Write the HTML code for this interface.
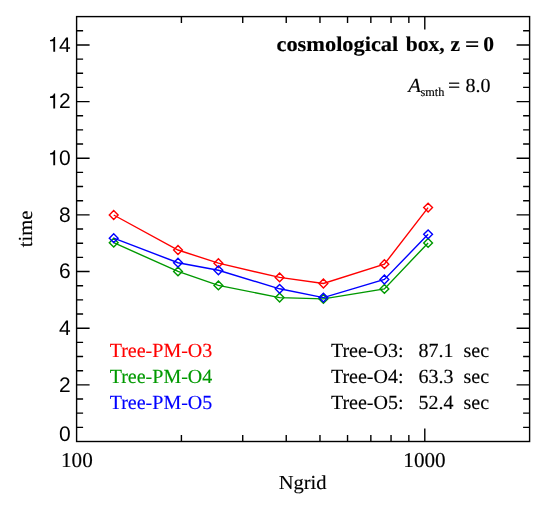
<!DOCTYPE html>
<html><head><meta charset="utf-8"><style>
html,body{margin:0;padding:0;background:#fff;}
body{width:550px;height:511px;overflow:hidden;font-family:"Liberation Serif",serif;}
svg{display:block;will-change:transform;}
text{white-space:pre;}
</style></head><body>
<svg width="550" height="511" viewBox="0 0 550 511" text-rendering="geometricPrecision">
<rect x="76.6" y="16.6" width="453.00" height="424.90" fill="none" stroke="#000" stroke-width="1.4"/>
<path d="M181.41 441.5v-6.5M181.41 16.6v6.5M242.73 441.5v-6.5M242.73 16.6v6.5M286.23 441.5v-6.5M286.23 16.6v6.5M319.97 441.5v-6.5M319.97 16.6v6.5M347.54 441.5v-6.5M347.54 16.6v6.5M370.85 441.5v-6.5M370.85 16.6v6.5M391.04 441.5v-6.5M391.04 16.6v6.5M408.85 441.5v-6.5M408.85 16.6v6.5M424.79 441.5v-13M424.79 16.6v13M76.6 427.34h6.5M529.6 427.34h-6.5M76.6 413.17h6.5M529.6 413.17h-6.5M76.6 399.01h6.5M529.6 399.01h-6.5M76.6 384.85h13M529.6 384.85h-13M76.6 370.68h6.5M529.6 370.68h-6.5M76.6 356.52h6.5M529.6 356.52h-6.5M76.6 342.36h6.5M529.6 342.36h-6.5M76.6 328.19h13M529.6 328.19h-13M76.6 314.03h6.5M529.6 314.03h-6.5M76.6 299.87h6.5M529.6 299.87h-6.5M76.6 285.70h6.5M529.6 285.70h-6.5M76.6 271.54h13M529.6 271.54h-13M76.6 257.38h6.5M529.6 257.38h-6.5M76.6 243.21h6.5M529.6 243.21h-6.5M76.6 229.05h6.5M529.6 229.05h-6.5M76.6 214.89h13M529.6 214.89h-13M76.6 200.72h6.5M529.6 200.72h-6.5M76.6 186.56h6.5M529.6 186.56h-6.5M76.6 172.40h6.5M529.6 172.40h-6.5M76.6 158.23h13M529.6 158.23h-13M76.6 144.07h6.5M529.6 144.07h-6.5M76.6 129.91h6.5M529.6 129.91h-6.5M76.6 115.74h6.5M529.6 115.74h-6.5M76.6 101.58h13M529.6 101.58h-13M76.6 87.42h6.5M529.6 87.42h-6.5M76.6 73.25h6.5M529.6 73.25h-6.5M76.6 59.09h6.5M529.6 59.09h-6.5M76.6 44.93h13M529.6 44.93h-13M76.6 30.76h6.5M529.6 30.76h-6.5" stroke="#000" stroke-width="1.4" fill="none"/>
<polyline points="113.7,215.0 178.0,250.0 218.4,263.2 279.6,277.4 323.4,283.5 384.4,264.2 428.1,207.6" fill="none" stroke="#ff0000" stroke-width="1.4"/>
<path d="M109.30 215.00L113.70 210.60L118.10 215.00L113.70 219.40ZM173.60 250.00L178.00 245.60L182.40 250.00L178.00 254.40ZM214.00 263.20L218.40 258.80L222.80 263.20L218.40 267.60ZM275.20 277.40L279.60 273.00L284.00 277.40L279.60 281.80ZM319.00 283.50L323.40 279.10L327.80 283.50L323.40 287.90ZM380.00 264.20L384.40 259.80L388.80 264.20L384.40 268.60ZM423.70 207.60L428.10 203.20L432.50 207.60L428.10 212.00Z" fill="none" stroke="#ff0000" stroke-width="1.4"/>
<polyline points="113.7,242.7 178.0,271.4 218.4,285.4 279.6,297.6 323.4,298.9 384.4,288.9 428.1,242.9" fill="none" stroke="#009900" stroke-width="1.4"/>
<path d="M109.30 242.70L113.70 238.30L118.10 242.70L113.70 247.10ZM173.60 271.40L178.00 267.00L182.40 271.40L178.00 275.80ZM214.00 285.40L218.40 281.00L222.80 285.40L218.40 289.80ZM275.20 297.60L279.60 293.20L284.00 297.60L279.60 302.00ZM319.00 298.90L323.40 294.50L327.80 298.90L323.40 303.30ZM380.00 288.90L384.40 284.50L388.80 288.90L384.40 293.30ZM423.70 242.90L428.10 238.50L432.50 242.90L428.10 247.30Z" fill="none" stroke="#009900" stroke-width="1.4"/>
<polyline points="113.7,238.2 178.0,262.7 218.4,270.3 279.6,288.8 323.4,297.6 384.4,279.5 428.1,234.3" fill="none" stroke="#0000ff" stroke-width="1.4"/>
<path d="M109.30 238.20L113.70 233.80L118.10 238.20L113.70 242.60ZM173.60 262.70L178.00 258.30L182.40 262.70L178.00 267.10ZM214.00 270.30L218.40 265.90L222.80 270.30L218.40 274.70ZM275.20 288.80L279.60 284.40L284.00 288.80L279.60 293.20ZM319.00 297.60L323.40 293.20L327.80 297.60L323.40 302.00ZM380.00 279.50L384.40 275.10L388.80 279.50L384.40 283.90ZM423.70 234.30L428.10 229.90L432.50 234.30L428.10 238.70Z" fill="none" stroke="#0000ff" stroke-width="1.4"/>
<g font-family="'Liberation Sans', sans-serif" font-size="21.0" text-anchor="end">
<path d="M55.13 51.83L53.29 51.83L53.29 41.22L49.99 41.22L49.99 39.90C51.90 39.81 53.37 39.27 53.94 36.94L55.13 36.94 Z" fill="#000"/>
<text x="70.8" y="51.83">4</text>
<path d="M55.13 108.48L53.29 108.48L53.29 97.88L49.99 97.88L49.99 96.55C51.90 96.47 53.37 95.92 53.94 93.59L55.13 93.59 Z" fill="#000"/>
<text x="70.8" y="108.48">2</text>
<path d="M55.13 165.13L53.29 165.13L53.29 154.53L49.99 154.53L49.99 153.21C51.90 153.12 53.37 152.58 53.94 150.24L55.13 150.24 Z" fill="#000"/>
<text x="70.8" y="165.13">0</text>
<text x="70.8" y="221.79">8</text>
<text x="70.8" y="278.44">6</text>
<text x="70.8" y="335.09">4</text>
<text x="70.8" y="391.75">2</text>
<text x="70.8" y="441.1">0</text>
</g>
<g font-family="'Liberation Serif', serif" font-size="20" stroke="#000" stroke-width="0.15">
<text x="76.90" y="467.1" text-anchor="middle" font-size="21.2">100</text>
<text x="424.49" y="467.1" text-anchor="middle" font-size="21.2">1000</text>
<text transform="translate(302.65 489.45) scale(1.03 1)" text-anchor="middle" font-size="19.9">Ngrid</text>
<text transform="translate(32.1 229.0) rotate(-90) scale(1.035 1)" text-anchor="middle" font-size="19.9">time</text>
<text transform="translate(276.50 50.6) scale(1.065 1)" font-weight="bold" font-size="21">cosmological</text>
<text transform="translate(405.70 50.6) scale(1.029 1)" font-weight="bold" font-size="21">box,</text>
<text transform="translate(450.50 50.6) scale(1.027 1)" font-weight="bold" font-size="21">z</text>
<text transform="translate(465.00 50.6) scale(1.205 1)" font-weight="bold" font-size="21">=</text>
<text transform="translate(483.20 50.6) scale(1.027 1)" font-weight="bold" font-size="21">0</text>
<text transform="translate(408.2 91.7) scale(1.04 1)" font-style="italic">A</text>
<text x="420.4" y="95.7" font-size="12.3">smth</text>
<text transform="translate(448.1 91.7) scale(1.08 1)">=</text>
<text x="465.6" y="91.7">8.0</text>
<text x="109.7" y="357.3" fill="#ff0000" stroke="#ff0000">Tree-PM-O3</text>
<text x="109.7" y="382.8" fill="#009900" stroke="#009900">Tree-PM-O4</text>
<text x="109.7" y="408.5" fill="#0000ff" stroke="#0000ff">Tree-PM-O5</text>
<text x="330.9" y="357.3" xml:space="preserve">Tree-O3:   87.1  sec</text>
<text x="330.9" y="382.8" xml:space="preserve">Tree-O4:   63.3  sec</text>
<text x="330.9" y="408.5" xml:space="preserve">Tree-O5:   52.4  sec</text>
</g>
</svg>
</body></html>
